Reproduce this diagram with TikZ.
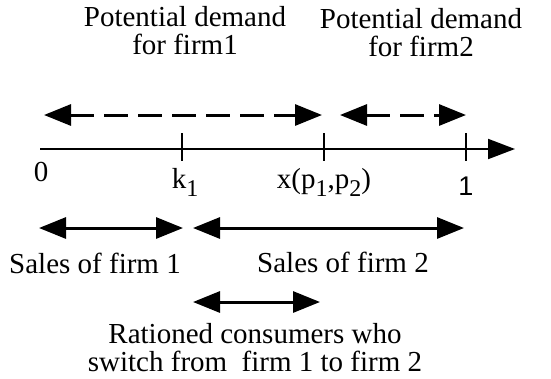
\documentclass[tikz,border=0pt]{standalone}
\usepackage{fontspec}
\setmainfont{Liberation Serif}
\newfontfamily\helv{Liberation Sans}
\usetikzlibrary{arrows.meta}
\newcommand{\lowsub}[1]{\raisebox{-0.28em}{\fontsize{24}{24}\selectfont #1}}
\begin{document}
\begin{tikzpicture}[x=1pt,y=-1pt,
  big/.style={line width=3pt,{Triangle[length=27pt,width=21pt]}-{Triangle[length=27pt,width=21pt]}},
  lbl/.style={font=\fontsize{29}{28}\selectfont,inner sep=0pt,align=center}]
  \useasboundingbox (0,0) rectangle (551,378);
  % axis with ticks
  \draw[line width=2pt,-{Triangle[length=27pt,width=20pt]}] (40,149) -- (515,149);
  \draw[line width=2pt] (182,133) -- (182,161);
  \draw[line width=2pt] (324,133) -- (324,161);
  \draw[line width=2pt] (466,133) -- (466,161);
  \node[lbl] (zero) at (41,172) {0};
  \node[lbl] (kone) at (185,182) {k\lowsub{1}};
  \node[lbl] (xp) at (324,182) {x(p\lowsub{1},p\lowsub{2})};
  \node[lbl,font=\helv\fontsize{27}{27}\selectfont] (one) at (466,186) {1};
  % potential demand
  \node[lbl] (pd1) at (185,31) {Potential demand\\for firm1};
  \node[lbl] (pd2) at (421,33) {Potential demand\\for firm2};
  \draw[big,dash pattern=on 24pt off 10pt] (44,115) -- (322,115);
  \draw[big,dash pattern=on 24pt off 10pt] (340,115) -- (466,115);
  % sales
  \draw[big] (39,228) -- (183,228);
  \draw[big] (193,228) -- (464,228);
  \node[lbl] (s1) at (95,263) {Sales of firm 1};
  \node[lbl] (s2) at (343,262) {Sales of firm 2};
  % rationed consumers
  \draw[big] (193,302) -- (320,302);
  \node[lbl] (rc) at (255,348) {Rationed consumers who\\switch from\ \ firm 1 to firm 2};
\end{tikzpicture}
\end{document}
